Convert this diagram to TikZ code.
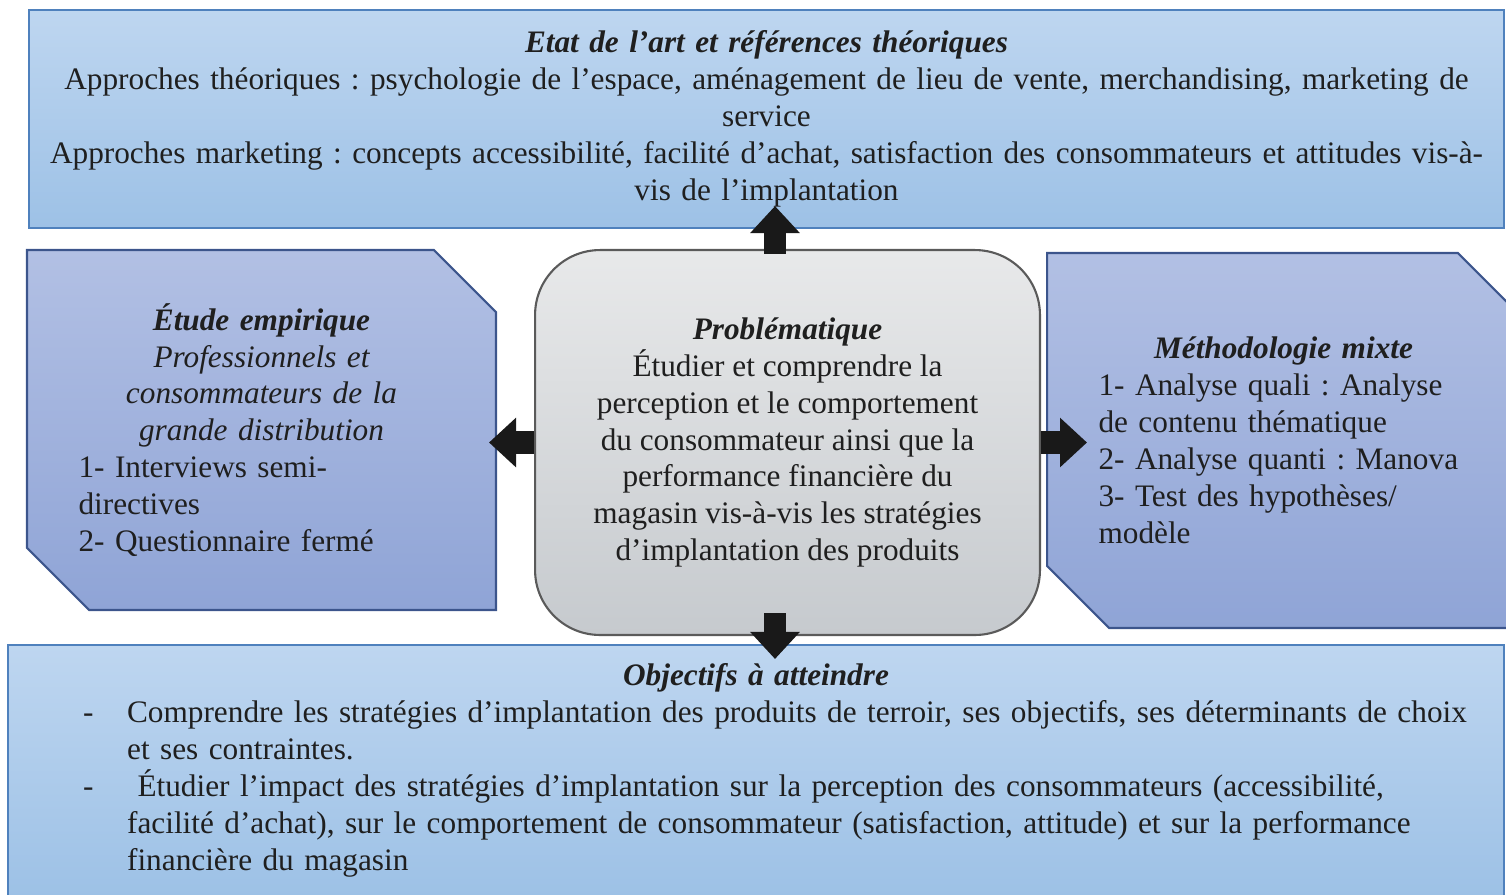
\documentclass[tikz,border=0pt]{standalone}
\usepackage{fontspec}
\setmainfont{Liberation Serif}
\usetikzlibrary{positioning}
\usetikzlibrary{shapes.misc}
\usetikzlibrary{arrows.meta}
\frenchspacing

\definecolor{azulClaro}{RGB}{190,214,240}
\definecolor{azulMedio}{RGB}{157,193,230}
\definecolor{azulBorde}{RGB}{79,129,189}
\definecolor{lilaClaro}{RGB}{178,192,228}
\definecolor{lilaOscuro}{RGB}{143,164,214}
\definecolor{lilaBorde}{RGB}{60,85,140}
\definecolor{grisClaro}{RGB}{232,233,234}
\definecolor{grisOscuro}{RGB}{198,202,206}
\definecolor{grisBorde}{RGB}{90,90,90}

\begin{document}
\begin{tikzpicture}[x=0.02cm, y=-0.02cm,
    every node/.style={font=\fontsize{17.8}{21}\selectfont, text=black!88},
    caja/.style={rectangle, draw=azulBorde, line width=1.2pt, top color=azulClaro, bottom color=azulMedio},
    lateral/.style={chamfered rectangle, chamfered rectangle corners={north east, south west}, chamfered rectangle sep=0.62cm, draw=lilaBorde, line width=1.2pt, top color=lilaClaro, bottom color=lilaOscuro},
    centro/.style={rectangle, rounded corners=1.3cm, draw=grisBorde, line width=1.2pt, top color=grisClaro, bottom color=grisOscuro},
    flecha/.style={line width=13pt, draw=black!90, -{Triangle[width=0.96cm, length=0.54cm]}}]
            \useasboundingbox (0,0) rectangle (1506,894);

            % Nodos
            \node[caja, minimum width=29.5cm, minimum height=4.36cm, text width=29.2cm, align=center] (etat) at (766.5,119) {\textbf{\textit{Etat de l’art et références théoriques}}\\ Approches théoriques : psychologie de l’espace, aménagement de lieu de vente, merchandising, marketing de\\ service\\ Approches marketing : concepts accessibilité, facilité d’achat, satisfaction des consommateurs et attitudes vis-à-\\ vis de l’implantation};
            \node[lateral, minimum width=9.38cm, minimum height=7.2cm, text width=7.32cm, inner xsep=0.41cm] (etude) at (261.5,430) {\centering\textbf{\textit{Étude empirique}}\\ \textit{Professionnels et\\ consommateurs de la\\ grande distribution}\par\raggedright 1- Interviews semi-\\ directives\\ 2- Questionnaire fermé};
            \node[centro, minimum width=10.1cm, minimum height=7.7cm, align=center] (probl) at (787.5,442.5) {\textbf{\textit{Problématique}}\\ Étudier et comprendre la\\ perception et le comportement\\ du consommateur ainsi que la\\ performance financière du\\ magasin vis-à-vis les stratégies\\ d’implantation des produits};
            \node[lateral, minimum width=9.46cm, minimum height=7.5cm, text width=7.4cm, inner xsep=0.41cm] (metho) at (1283.5,440.5) {\centering\textbf{\textit{Méthodologie mixte}}\par\raggedright 1- Analyse quali : Analyse\\ de contenu thématique\\ 2- Analyse quanti : Manova\\ 3- Test des hypothèses/\\ modèle};
            \node[caja, minimum width=29.92cm, minimum height=5.02cm, text width=29.2cm] (objectifs) at (756,770.5) {\centering\textbf{\textit{Objectifs à atteindre}}\par\raggedright
              \hspace*{1.14cm}\makebox[0.88cm][l]{-}Comprendre les stratégies d’implantation des produits de terroir, ses objectifs, ses déterminants de choix\\
              \hspace*{2.02cm}et ses contraintes.\\
              \hspace*{1.14cm}\makebox[0.88cm][l]{-} Étudier l’impact des stratégies d’implantation sur la perception des consommateurs (accessibilité,\\
              \hspace*{2.02cm}facilité d’achat), sur le comportement de consommateur (satisfaction, attitude) et sur la performance\\
              \hspace*{2.02cm}financière du magasin};

            % Flechas
            \draw[flecha, shorten >=-0.46cm] ([xshift=-0.25cm, yshift=-0.1cm]probl.north) -- ([xshift=-0.25cm]probl.north |- etat.south);
            \draw[flecha, shorten >=-0.16cm] (probl.west) -- (probl.west -| etude.east);
            \draw[flecha, shorten >=-0.82cm] (probl.east) -- (probl.east -| metho.west);
            \draw[flecha, shorten >=-0.3cm] ([xshift=-0.25cm, yshift=0.46cm]probl.south) -- ([xshift=-0.25cm]probl.south |- objectifs.north);
          \end{tikzpicture}
\end{document}
